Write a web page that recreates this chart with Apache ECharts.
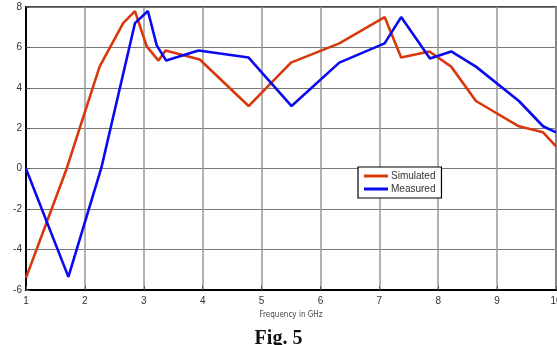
<!DOCTYPE html>
<html>
<head>
<meta charset="utf-8">
<script src="https://cdn.jsdelivr.net/npm/echarts@6/dist/echarts.min.js"></script>
<style>
  html, body { margin: 0; padding: 0; background: #fff; }
  #chart { width: 557px; height: 345px; }
</style>
</head>
<body>
<div id="chart"></div>
<script>
// frequency (GHz) / gain (dB) pairs
const simFreq = [1, 1.69, 2.25, 2.65, 2.85, 3.05, 3.25, 3.37, 3.95, 4.78, 5.5, 6.32, 7.09, 7.37, 7.85, 8.22, 8.64, 9.37, 9.78, 10];
const simGain = [-5.4, 0, 5.05, 7.2, 7.8, 6.05, 5.35, 5.85, 5.4, 3.1, 5.25, 6.2, 7.5, 5.5, 5.8, 5.05, 3.35, 2.1, 1.8, 1.1];
const measFreq = [1, 1.72, 2.28, 2.85, 3.07, 3.22, 3.38, 3.93, 4.78, 5.51, 6.32, 7.09, 7.37, 7.86, 8.22, 8.64, 9.37, 9.78, 10];
const measGain = [0, -5.35, 0.05, 7.2, 7.8, 6.1, 5.35, 5.85, 5.5, 3.1, 5.25, 6.2, 7.5, 5.45, 5.8, 5.05, 3.35, 2.1, 1.8];

const pairs = (xs, ys) => xs.map((x, i) => [x, ys[i]]);

const chart = echarts.init(document.getElementById('chart'));
chart.setOption({
    animation: false,
    grid: {
        left: 26,
        right: 1,
        top: 7,
        bottom: 55,
        outerBoundsMode: 'none',
        containLabel: false,
        show: true,
        borderColor: '#111',
        borderWidth: 1.5,
    },
    legend: {
        orient: 'vertical',
        left: 358,
        top: 167,
        padding: [4, 6, 4, 6],
        itemGap: 3,
        itemWidth: 24,
        itemHeight: 3,
        icon: 'rect',
        borderColor: '#000',
        borderWidth: 1.2,
        backgroundColor: '#fff',
        textStyle: { fontFamily: 'Liberation Sans', fontSize: 10, color: '#333', padding: [0, 0, 0, -2] },
        data: ['Simulated', 'Measured'],
    },
    xAxis: {
        type: 'value',
        min: 1,
        max: 10,
        interval: 1,
        name: 'Frequency in GHz',
        nameLocation: 'middle',
        nameGap: 20,
        nameTextStyle: { fontFamily: 'DejaVu Sans Condensed', fontSize: 8, color: '#444' },
        axisLine: { onZero: false, lineStyle: { color: '#000', width: 2 } },
        axisTick: { inside: true, length: 4, lineStyle: { color: '#555' } },
        axisLabel: { fontFamily: 'Liberation Sans', fontSize: 10, color: '#333', margin: 6 },
        splitLine: { show: true, lineStyle: { color: '#999', width: 1.5 } },
    },
    yAxis: {
        type: 'value',
        min: -6,
        max: 8,
        interval: 2,
        name: 'Gain in db',
        nameLocation: 'middle',
        nameGap: 20,
        nameTextStyle: { fontFamily: 'DejaVu Sans Condensed', fontSize: 8, color: '#444' },
        axisLine: { show: true, onZero: false, lineStyle: { color: '#000', width: 2 } },
        axisTick: { show: true, inside: true, length: 4, lineStyle: { color: '#555' } },
        axisLabel: { fontFamily: 'Liberation Sans', fontSize: 10, color: '#333', margin: 4 },
        splitLine: { show: true, lineStyle: { color: '#777', width: 1.2 } },
    },
    series: [
        {
            name: 'Simulated',
            type: 'line',
            data: pairs(simFreq, simGain),
            symbol: 'none',
            color: '#D8380C',
            lineStyle: { width: 2.6 },
        },
        {
            name: 'Measured',
            type: 'line',
            data: pairs(measFreq, measGain),
            symbol: 'none',
            color: '#0A0AF0',
            lineStyle: { width: 2.6 },
        },
    ],
    graphic: [
        {
            type: 'text',
            left: 'center',
            top: 329,
            style: { text: 'Fig. 5', fontFamily: 'Liberation Serif', fontWeight: 'bold', fontSize: 20, fill: '#111' },
        },
    ],
});
</script>
</body>
</html>
